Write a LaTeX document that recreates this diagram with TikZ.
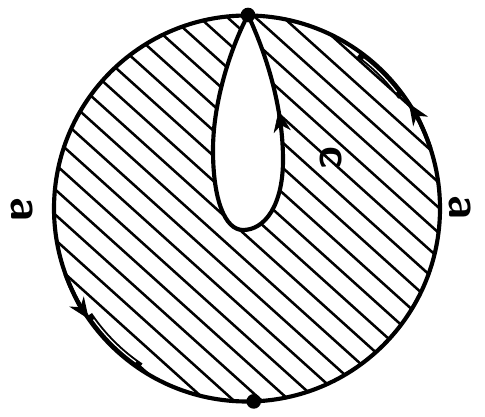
\documentclass[tikz,border=0pt]{standalone}
\usetikzlibrary{arrows.meta,decorations.markings}
\begin{document}
\begin{tikzpicture}[x=0.75pt,y=0.75pt,
  rim/.style={line width=3.1pt},
  hatch/.style={line width=1.9pt},
  tip/.style={-{Stealth[length=16pt,width=13pt,inset=5pt]}},
  dot/.style={circle,fill=black,inner sep=0pt,minimum size=11pt},
  lbl/.style={font=\sffamily\bfseries\fontsize{34}{36}\selectfont,rotate=-90,inner sep=0pt}]
\useasboundingbox (0,0) rectangle (485,417);
\coordinate (C) at (247,208.5);
\def\R{193}
% hatching
\begin{scope}
  \clip (C) circle (\R);
  \foreach \k in {-13,...,13}
    \draw[hatch] ([shift={(48:\k*18.7-2)}]C) ++(138:280) -- ++(-42:560);
\end{scope}
% teardrop hole
\coordinate (T) at (248,402);
\coordinate (L) at (213,267);
\coordinate (Bt) at (243,187);
\coordinate (Rt) at (283,257);
\fill[white] (T) .. controls (232,372) and (213,317) .. (L)
  .. controls (213,217) and (225,187) .. (Bt)
  .. controls (265,187) and (283,212) .. (Rt)
  .. controls (283,317) and (262,372) .. (T) -- cycle;
\draw[rim] (T) .. controls (232,372) and (213,317) .. (L)
  .. controls (213,217) and (225,187) .. (Bt)
  .. controls (265,187) and (283,212) .. (Rt)
  .. controls (283,317) and (262,372) .. (T);
\path[decorate,decoration={markings,mark=at position 0.33 with {\arrow{Stealth[length=16pt,width=13pt,inset=5pt]}}}]
  (Rt) .. controls (283,317) and (262,372) .. (T);
% outer circle
\draw[rim] (C) circle (\R);
% double-line segments
\draw[line width=4.6pt] ([shift={(36:\R-3)}]C) arc[start angle=36,end angle=54,radius=\R-3];
\draw[white,line width=0.9pt,line cap=round] ([shift={(38:\R-3.5)}]C) arc[start angle=38,end angle=52,radius=\R-3.5];
\draw[line width=4.6pt] ([shift={(214:\R-3)}]C) arc[start angle=214,end angle=236,radius=\R-3];
\draw[white,line width=0.9pt,line cap=round] ([shift={(216:\R-3.5)}]C) arc[start angle=216,end angle=234,radius=\R-3.5];
% arrows on circle
\draw[rim,tip] ([shift={(18:\R)}]C) arc[start angle=18,end angle=33,radius=\R];
\draw[rim,tip] ([shift={(200:\R)}]C) arc[start angle=200,end angle=215,radius=\R];
% dots
\node[dot] (top) at (T) {};
\node[dot] (bot) at ([shift={(-88:\R)}]C) {};
% labels
\node[lbl] (la) at (22,208) {a};
\node[lbl] (ra) at (460,210) {a};
\node[lbl] (lc) at (331,259) {c};
\end{tikzpicture}
\end{document}
